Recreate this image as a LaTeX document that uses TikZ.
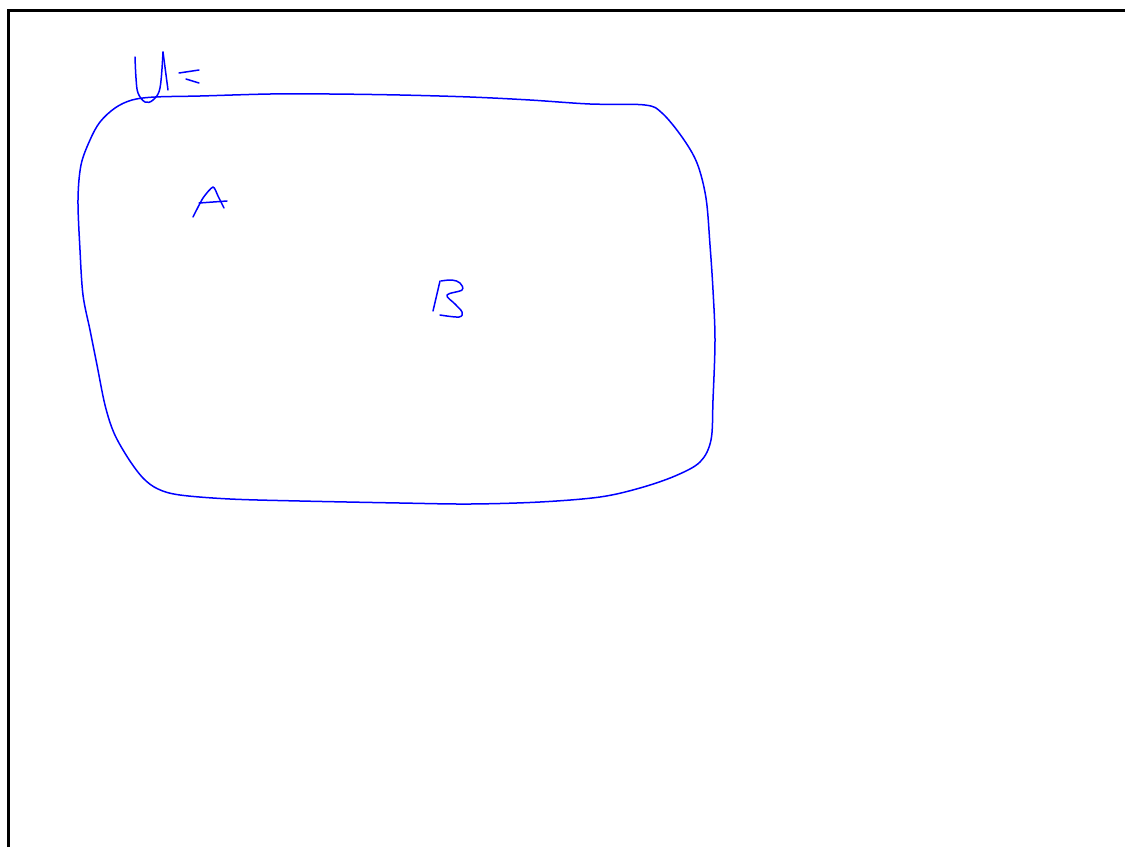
\documentclass[tikz,border=0pt]{standalone}
\begin{document}
\begin{tikzpicture}[x=0.5pt,y=-0.5pt,
  frame/.style={line width=1.5pt,black},
  ink/.style={blue,line width=0.75pt,line cap=round,line join=round}]
\useasboundingbox (0,0) rectangle (1125,847);
% page frame
\draw[frame] (8,847) -- (8,10) -- (1125,10);
% universe outline
\draw[ink] plot[smooth cycle,tension=0.55] coordinates {
 (155,97) (200,96) (270,94) (330,94) (400,95) (470,97) (530,100) (590,104) (645,105)
 (662,113) (682,137) (697,163) (706,198) (710,245) (713,290) (715,340) (713,400) (711,440)
 (700,462) (675,476) (640,488) (600,497) (540,502) (470,504) (400,503) (300,501) (230,499)
 (180,495) (158,489) (143,478) (128,458) (114,433) (105,405) (97,365) (90,330) (83,295)
 (80,250) (78,200) (81,165) (90,140) (100,122) (115,108) (132,100)};
% U=
\draw[ink] plot[smooth,tension=0.6] coordinates {(135,57) (136,78) (138,93) (145,102) (153,100) (160,88) (163,52)};
\draw[ink] (163,52) -- (168,90);
\draw[ink] (179,73) -- (199,70);
\draw[ink] (186,79) -- (199,83);
% A
\draw[ink] plot[smooth,tension=0.4] coordinates {(193,217) (203,198) (213,187) (218,196) (224,208)};
\draw[ink] (199,203) -- (227,201);
% B
\draw[ink] (433,311) -- (440,281);
\draw[ink] plot[smooth,tension=0.6] coordinates {(441,281) (452,280) (460,283) (462,290) (447,295) (455,304) (462,312) (459,317) (440,315)};
\end{tikzpicture}
\end{document}
